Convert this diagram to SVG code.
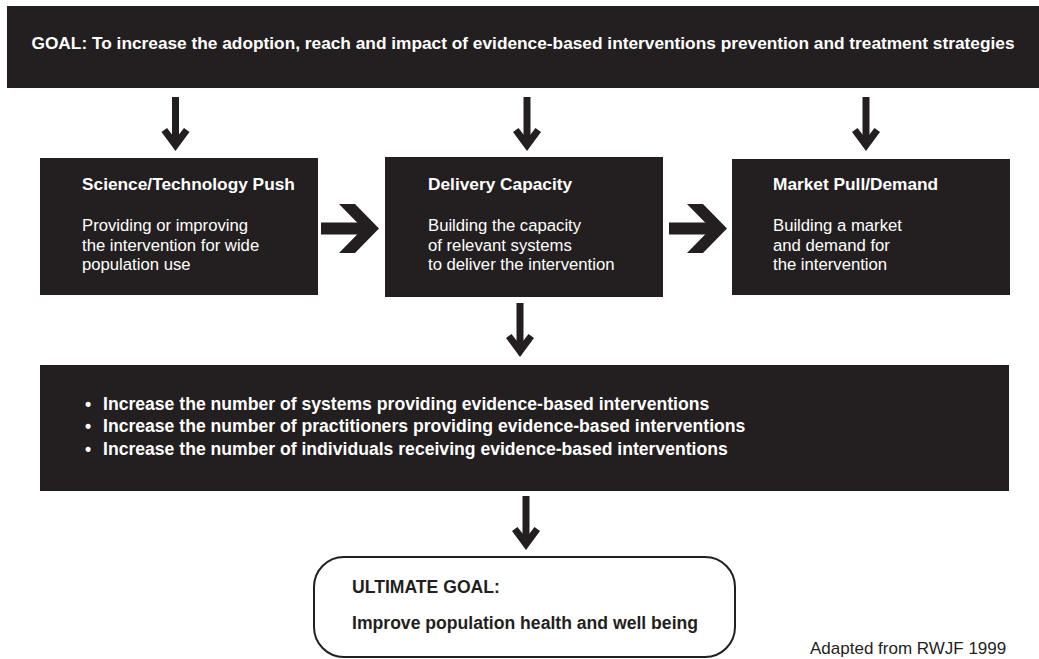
<svg xmlns="http://www.w3.org/2000/svg" xmlns:xlink="http://www.w3.org/1999/xlink" width="1039" height="659" viewBox="0 0 1039 659">
  <style>
    .box { fill: #231f20; }
    .round { fill: #ffffff; stroke: #231f20; stroke-width: 2; }
    .ink { fill: #231f20; }
    text { font-family: "Liberation Sans", Arial, Helvetica, sans-serif; }
    .b { font-weight: bold; font-size: 17.3px; }
    .w { fill: #ffffff; }
    .k { fill: #231f20; }
    .body { font-size: 16.7px; }
    .list { font-weight: bold; font-size: 17.6px; }
    .note { font-size: 17px; fill: #231f20; }
  </style>
  <defs>
    <!-- thin down arrow, origin at shaft top centre, 54 tall -->
    <g id="arrowDown">
      <rect x="-3.5" y="0" width="7" height="44" class="ink"/>
      <polygon points="-14,35 -8.5,31 0,42 8.5,31 14,35 0,54" class="ink"/>
    </g>
    <!-- bold right arrow, origin at shaft left, vertical centre -->
    <g id="arrowRight">
      <rect x="0" y="-6" width="46" height="12" class="ink"/>
      <polygon points="18,-24.5 34,-24.5 58,0 34,24.5 18,24.5 42,0" class="ink"/>
    </g>
  </defs>

  <g id="goal">
    <rect x="7" y="6" width="1032" height="82" class="box"/>
    <text x="523" y="49" text-anchor="middle" class="b w">GOAL: To increase the adoption, reach and impact of evidence-based interventions prevention and treatment strategies</text>
  </g>

  <g id="push">
    <rect x="40" y="158" width="278" height="137" class="box"/>
    <text x="82" y="190" class="b w">Science/Technology Push</text>
    <text class="body w">
      <tspan x="82" y="231">Providing or improving</tspan>
      <tspan x="82" y="250.5">the intervention for wide</tspan>
      <tspan x="82" y="270">population use</tspan>
    </text>
  </g>

  <g id="delivery">
    <rect x="385" y="157" width="278" height="140" class="box"/>
    <text x="428" y="190" class="b w">Delivery Capacity</text>
    <text class="body w">
      <tspan x="428" y="231">Building the capacity</tspan>
      <tspan x="428" y="250.5">of relevant systems</tspan>
      <tspan x="428" y="270">to deliver the intervention</tspan>
    </text>
  </g>

  <g id="pull">
    <rect x="732" y="159" width="278" height="136" class="box"/>
    <text x="773" y="190" class="b w">Market Pull/Demand</text>
    <text class="body w">
      <tspan x="773" y="231">Building a market</tspan>
      <tspan x="773" y="250.5">and demand for</tspan>
      <tspan x="773" y="270">the intervention</tspan>
    </text>
  </g>

  <g id="outcomes">
    <rect x="40" y="365" width="969" height="126" class="box"/>
    <text x="85" y="409.5" class="list w">•</text>
    <text x="103" y="409.5" class="list w">Increase the number of systems providing evidence-based interventions</text>
    <text x="85" y="432" class="list w">•</text>
    <text x="103" y="432" class="list w">Increase the number of practitioners providing evidence-based interventions</text>
    <text x="85" y="455" class="list w">•</text>
    <text x="103" y="455" class="list w">Increase the number of individuals receiving evidence-based interventions</text>
  </g>

  <g id="ultimate">
    <rect x="314" y="557" width="421" height="100" rx="30" ry="30" class="round"/>
    <text x="352" y="593" class="list k">ULTIMATE GOAL:</text>
    <text x="352" y="629" class="list k">Improve population health and well being</text>
  </g>

  <g id="connectors">
    <use xlink:href="#arrowDown" transform="translate(175.5,97)"/>
    <use xlink:href="#arrowDown" transform="translate(527,97)"/>
    <use xlink:href="#arrowDown" transform="translate(866,97)"/>
    <use xlink:href="#arrowRight" transform="translate(321,228.5)"/>
    <use xlink:href="#arrowRight" transform="translate(669,228.5)"/>
    <use xlink:href="#arrowDown" transform="translate(520,303)"/>
    <use xlink:href="#arrowDown" transform="translate(526,496)"/>
  </g>

  <text id="source" x="810" y="654" class="note">Adapted from RWJF 1999</text>
</svg>
